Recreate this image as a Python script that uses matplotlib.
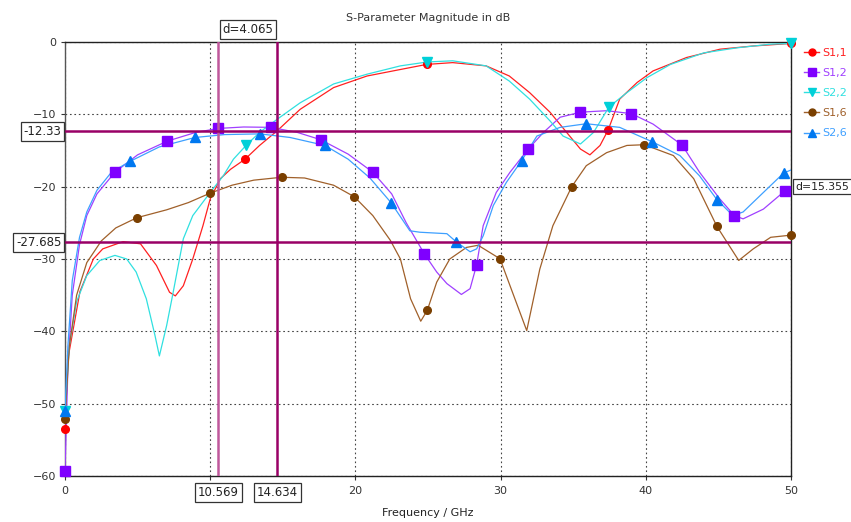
import matplotlib
matplotlib.use("Agg")
import matplotlib.pyplot as plt
from matplotlib.lines import Line2D

# ---- data (frequency in GHz, magnitude in dB) ----
s11_f = [0, 0.2, 1.03, 1.95, 2.6, 4.0, 5.2, 6.3, 7.2, 7.6, 8.15, 8.8, 9.5, 10.0,
         10.7, 11.4, 12.4, 13.4, 14.6, 16.2, 18.5, 20.8, 23.1, 24.9, 26.7, 29.0,
         30.6, 32.0, 33.4, 34.55, 35.5, 36.15, 36.85, 37.4, 38.2, 39.4, 40.5,
         42.8, 45.1, 47.4, 50.0]
s11_db = [-53.5, -43.8, -34.5, -30.0, -28.6, -27.6, -27.9, -30.9, -34.6, -35.1,
          -33.7, -30.0, -25.4, -21.7, -18.9, -17.6, -16.2, -14.3, -12.3, -9.3,
          -6.3, -4.7, -3.8, -3.1, -2.85, -3.3, -4.7, -7.0, -9.7, -12.5, -14.8,
          -15.6, -14.3, -12.2, -7.9, -5.6, -4.0, -2.15, -1.0, -0.55, -0.2]
s11_mk_f = [0, 12.4, 24.9, 37.4, 50.0]
s11_mk_db = [-53.5, -16.2, -3.1, -12.2, -0.2]

s12_f = [0, 0.2, 0.5, 1.0, 1.5, 2.2, 3.44, 5.0, 7.05, 9.0, 10.56, 12.3, 14.17,
         16.0, 17.6, 19.5, 21.2, 22.5, 23.5, 24.75, 25.6, 26.3, 27.3, 27.9,
         28.35, 28.8, 29.7, 30.65, 31.9, 32.95, 34.1, 35.5, 37.3, 39.0, 40.5,
         42.5, 43.7, 45.1, 46.1, 46.7, 48.1, 49.6, 50.0]
s12_db = [-59.3, -45.0, -35.0, -28.0, -24.0, -21.0, -18.0, -15.6, -13.7, -12.5,
          -11.95, -11.75, -11.8, -12.5, -13.5, -15.5, -18.0, -21.0, -25.0, -29.3,
          -31.8, -33.4, -34.9, -34.1, -30.8, -25.4, -20.8, -18.0, -14.8, -12.5,
          -10.4, -9.7, -9.5, -9.9, -11.35, -14.25, -18.0, -21.7, -24.0, -24.45,
          -23.1, -20.55, -20.3]
s12_mk_f = [0, 3.44, 7.05, 10.56, 14.17, 17.6, 21.2, 24.75, 28.35, 31.9, 35.5,
            39.0, 42.5, 46.1, 49.6]
s12_mk_db = [-59.3, -18.0, -13.7, -11.95, -11.8, -13.5, -18.0, -29.3, -30.8,
             -14.8, -9.7, -9.9, -14.25, -24.0, -20.55]

s22_f = [0, 0.3, 0.8, 1.5, 2.4, 3.44, 4.25, 4.9, 5.6, 6.2, 6.5, 7.0, 7.45, 8.15,
         8.8, 10.0, 10.9, 11.6, 12.47, 13.4, 14.6, 16.2, 18.5, 20.8, 23.1, 24.95,
         26.7, 29.0, 30.6, 32.0, 33.4, 34.3, 35.5, 36.4, 37.47, 38.7, 40.1,
         41.7, 44.0, 46.3, 48.6, 50.0]
s22_db = [-51.0, -42.0, -35.9, -32.3, -30.2, -29.5, -30.0, -31.8, -35.5, -40.6,
          -43.4, -39.2, -34.6, -27.2, -24.0, -20.8, -18.5, -16.2, -14.3, -12.5,
          -10.7, -8.4, -5.8, -4.45, -3.3, -2.76, -2.6, -3.3, -5.4, -7.9, -10.9,
          -13.0, -14.1, -12.5, -8.97, -7.0, -4.9, -3.1, -1.5, -0.8, -0.3, -0.2]
s22_mk_f = [0, 12.47, 24.95, 37.47, 50.0]
s22_mk_db = [-51.0, -14.3, -2.76, -8.97, -0.2]

s16_f = [0, 0.3, 0.8, 1.5, 2.5, 3.5, 4.94, 7.0, 8.5, 9.99, 11.5, 13.0, 14.92,
         16.5, 18.5, 19.93, 21.2, 22.4, 23.1, 23.8, 24.5, 24.95, 25.6, 26.5,
         27.65, 28.45, 29.96, 30.65, 31.8, 32.7, 33.6, 34.9, 35.9, 37.3, 38.7,
         39.9, 41.9, 43.3, 44.9, 45.6, 46.4, 47.4, 48.6, 50.0]
s16_db = [-52.1, -42.0, -35.0, -30.5, -27.5, -25.7, -24.3, -23.2, -22.2, -20.9,
          -19.8, -19.1, -18.7, -18.8, -19.8, -21.4, -24.0, -27.4, -30.0, -35.5,
          -38.6, -37.1, -33.2, -30.0, -28.4, -28.1, -29.97, -33.7, -39.9, -31.4,
          -25.4, -20.0, -17.1, -15.3, -14.3, -14.2, -15.7, -18.9, -25.5, -27.7,
          -30.2, -28.6, -27.0, -26.7]
s16_mk_f = [0, 4.94, 9.99, 14.92, 19.93, 24.95, 29.96, 34.9, 39.9, 44.9, 50.0]
s16_mk_db = [-52.1, -24.3, -20.9, -18.7, -21.4, -37.1, -29.97, -20.0, -14.2,
             -25.5, -26.7]

s26_f = [0, 0.2, 0.5, 1.0, 1.5, 2.2, 3.2, 4.48, 6.5, 8.95, 11.0, 13.43, 15.5,
         17.9, 19.5, 21.0, 22.45, 23.75, 24.45, 26.3, 26.93, 27.9, 28.35, 28.8,
         29.5, 30.4, 31.45, 32.5, 34.1, 35.9, 38.2, 40.45, 42.35, 43.7, 44.9,
         46.0, 46.7, 48.1, 49.5, 50.0]
s26_db = [-51.0, -42.0, -33.0, -27.0, -23.5, -20.5, -18.0, -16.5, -14.5, -13.2,
          -12.8, -12.7, -13.2, -14.3, -16.2, -18.8, -22.2, -26.1, -26.3, -26.5,
          -27.6, -29.0, -28.6, -26.8, -22.6, -19.4, -16.4, -13.0, -11.8, -11.3,
          -11.8, -13.8, -15.7, -18.5, -21.8, -24.0, -23.5, -20.8, -18.1, -17.7]
s26_mk_f = [0, 4.48, 8.95, 13.43, 17.9, 22.45, 26.93, 31.45, 35.9, 40.45, 44.9,
            49.5]
s26_mk_db = [-51.0, -16.5, -13.2, -12.7, -14.3, -22.2, -27.6, -16.4, -11.3,
             -13.8, -21.8, -18.1]

# marker readouts
mark_f = [10.569, 14.634]
mark_db = [-12.33, -27.685]

x_ticks = [0, 10, 20, 30, 40, 50]
x_ticklabels = ["0", "", "20", "30", "40", "50"]  # "10" is hidden behind a readout box
y_ticks = [0, -10, -20, -30, -40, -50, -60]

SERIES = (
    # label, curve x, curve y, marker x, marker y, line color, marker color, marker, size
    ("S1,1", s11_f, s11_db, s11_mk_f, s11_mk_db, "#ff2020", "#ff0000", "o", 5.5),
    ("S1,2", s12_f, s12_db, s12_mk_f, s12_mk_db, "#a040ff", "#7f00ff", "s", 6.5),
    ("S2,2", s22_f, s22_db, s22_mk_f, s22_mk_db, "#30e0e0", "#00d0d8", "v", 6.5),
    ("S1,6", s16_f, s16_db, s16_mk_f, s16_mk_db, "#a0602a", "#7a3f00", "o", 5.5),
    ("S2,6", s26_f, s26_db, s26_mk_f, s26_mk_db, "#3ea0ff", "#0078f0", "^", 6.5),
)

MARK_DARK = "#990066"
MARK_LIGHT = "#c0589c"

fig = plt.figure(figsize=(8.51, 5.22), dpi=100)
ax = fig.add_axes([65 / 851, 1 - 476 / 522, 726 / 851, 434 / 522])

handles = []
for label, xf, yd, mx, my, lc, mc, mk, ms in SERIES:
    ax.plot(xf, yd, color=lc, lw=0.9, zorder=3)
    ax.plot(mx, my, ls="none", marker=mk, ms=ms, color=mc, mec=mc, zorder=4,
            clip_on=False)
    handles.append(Line2D([], [], color=lc, lw=1.0, marker=mk, ms=ms - 0.5,
                          mfc=mc, mec=mc, label=label))

# marker lines
ax.axvline(mark_f[0], color=MARK_LIGHT, lw=1.8, zorder=5)
ax.axvline(mark_f[1], color=MARK_DARK, lw=1.8, zorder=5)
for v in mark_db:
    ax.axhline(v, color=MARK_DARK, lw=1.8, zorder=5)

ax.set_xlim(0, 50)
ax.set_ylim(-60, 0)
ax.set_xticks(x_ticks)
ax.set_xticklabels(x_ticklabels)
ax.set_yticks(y_ticks)
ax.grid(True, color="#444444", lw=0.8, ls=(0, (1.5, 2.5)))
ax.set_axisbelow(True)
for sp in ax.spines.values():
    sp.set_linewidth(1.0)
    sp.set_color("#222222")
ax.spines["left"].set_color("#555555")
ax.tick_params(axis="both", labelsize=8, colors="#333333", length=3, width=0.8,
               direction="out")
ax.tick_params(axis="x", pad=4)

ax.set_title("S-Parameter Magnitude in dB", fontsize=8, color="#333333", pad=15)
ax.set_xlabel("Frequency / GHz", fontsize=8, color="#222222", labelpad=9)

box = dict(boxstyle="square,pad=0.25", fc="white", ec="#333333", lw=0.9)
xt = ax.get_xaxis_transform()
yt = ax.get_yaxis_transform()
for v in mark_f:
    ax.text(v, -0.037, f"{v:.3f}", transform=xt, ha="center", va="center",
            fontsize=8.5, color="#222222", bbox=box, zorder=10, clip_on=False)
ax.text(sum(mark_f) / 2, 1.028, f"d={mark_f[1] - mark_f[0]:.3f}", transform=xt,
        ha="center", va="center", fontsize=8.5, color="#222222", bbox=box,
        zorder=10, clip_on=False)
for v in mark_db:
    ax.text(-0.005, v, f"{v:g}", transform=yt, ha="right", va="center",
            fontsize=8.5, color="#222222", bbox=box, zorder=10, clip_on=False)
ax.text(1.006, sum(mark_db) / 2, f"d={mark_db[0] - mark_db[1]:.3f}",
        transform=yt, ha="left", va="center", fontsize=7.8, color="#222222",
        bbox=box, zorder=10, clip_on=False)

leg = ax.legend(handles=handles, loc="upper left", bbox_to_anchor=(1.01, 1.0),
                frameon=False, fontsize=8, handlelength=1.4, handletextpad=0.25,
                labelspacing=0.92, borderaxespad=0.1, labelcolor="linecolor")

fig.savefig("out.png", dpi=100)
